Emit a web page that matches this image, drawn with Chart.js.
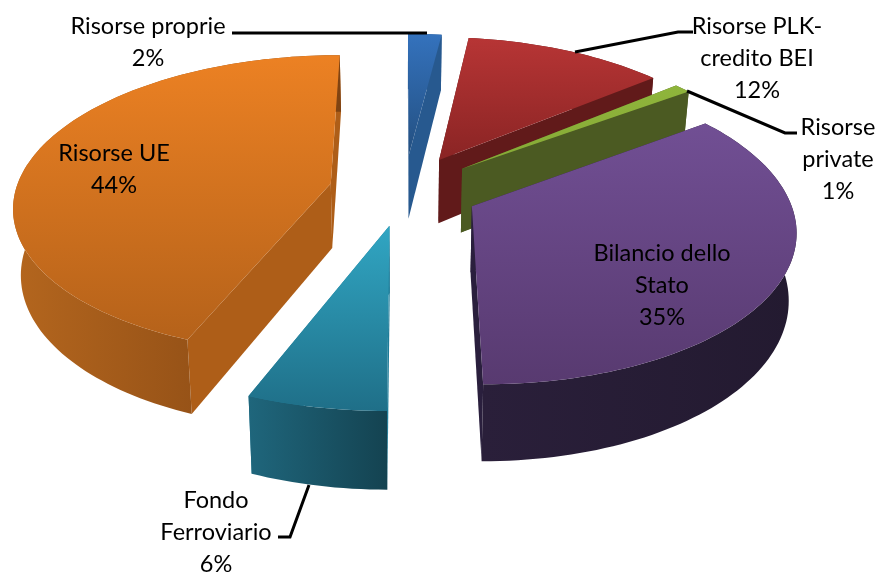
<!DOCTYPE html>
<html>
<head>
<meta charset="utf-8">
<style>
  html, body { margin: 0; padding: 0; background: #fff; }
  #wrap { width: 878px; height: 572px; }
</style>
<script src="https://cdn.jsdelivr.net/npm/chart.js@4"></script>
</head>
<body>
<div id="wrap"><canvas id="pie" width="878" height="572"></canvas></div>
<script>
// Chart data
const categories = [['Risorse proprie'], ['Risorse PLK-', 'credito BEI'], ['Risorse', 'private'],
    ['Bilancio dello', 'Stato'], ['Fondo', 'Ferroviario'], ['Risorse UE']];
const shares = [2, 12, 1, 35, 6, 44];

// Slice colours: top face gradient, cut faces, outer wall gradient
const topLight = ['#3472bd', '#b73535', '#8fb53b', '#714f94', '#31a6c3', '#ec8123'];
const topDark = ['#234f80', '#8a2424', '#86a836', '#583a70', '#1f6f88', '#b5621a'];
const cutColors = ['#27598f', '#611a1a', '#4b5a22', '#2a1f3d', '#1f7c98', '#ae5e18'];
const wallLeft = ['#27598f', '#611a1a', '#4b5a22', '#2a1f3a', '#1f667c', '#b4661e'];
const wallRight = ['#27598f', '#611a1a', '#4b5a22', '#231a30', '#144351', '#7f4312'];

// Label placement (centre x, first line y)
const labelX = [148, 757, 838, 662, 216, 114];
const labelY = [26, 26, 127, 253, 500, 153];
const lineGap = 32;
const leaders = [
    [[232, 33], [427, 33]],
    [[575, 52], [678, 32], [693, 32]],
    [[687, 91], [785, 133], [797, 133]],
    null,
    [[278, 537], [290, 537], [309, 485]],
    null
];

// Projection of the pie plane
const CX = 404, CY = 190, PLAN_R = 315, TILT = 0.47, EYE = 2240, DEPTH = 65, FLOOR_SCALE = 0.98;

function project(u, v, bottom) {
    const s = EYE / (EYE - v);
    const x = u * s * (bottom ? FLOOR_SCALE : 1);
    const y = (TILT * v + (bottom ? DEPTH : 0)) * s;
    return [CX + x, CY + y];
}

function tracePoly(ctx, pts) {
    ctx.beginPath();
    pts.forEach((p, i) => i ? ctx.lineTo(p[0], p[1]) : ctx.moveTo(p[0], p[1]));
    ctx.closePath();
}

// Draws one arc of the pie with its walls
function drawSlice(ctx, arc, i) {
    const scale = PLAN_R / arc.outerRadius;
    const mid = (arc.startAngle + arc.endAngle) / 2;
    const ou = Math.cos(mid) * arc.options.offset;
    const ov = Math.sin(mid) * arc.options.offset;
    const rim = [];
    const steps = Math.max(4, Math.ceil((arc.endAngle - arc.startAngle) * 40));
    for (let n = 0; n <= steps; n++) {
        const a = arc.startAngle + (arc.endAngle - arc.startAngle) * n / steps;
        const r = arc.outerRadius * scale;
        rim.push([ou + r * Math.cos(a), ov + r * Math.sin(a)]);
    }
    const topRim = rim.map(p => project(p[0], p[1], false));
    const lowRim = rim.map(p => project(p[0], p[1], true));
    const apexTop = project(ou, ov, false);
    const apexLow = project(ou, ov, true);

    // cut faces
    ctx.fillStyle = cutColors[i];
    tracePoly(ctx, [apexTop, topRim[0], lowRim[0], apexLow]);
    ctx.fill();
    tracePoly(ctx, [apexTop, topRim[steps], lowRim[steps], apexLow]);
    ctx.fill();

    // outer wall
    const xs = topRim.map(p => p[0]);
    const wall = ctx.createLinearGradient(Math.min(...xs), 0, Math.max(...xs), 0);
    wall.addColorStop(0, wallLeft[i]);
    wall.addColorStop(1, wallRight[i]);
    ctx.fillStyle = wall;
    tracePoly(ctx, topRim.concat(lowRim.slice().reverse()));
    ctx.fill();

    // top face
    const ys = topRim.map(p => p[1]).concat(apexTop[1]);
    const top = ctx.createLinearGradient(0, Math.min(...ys), 0, Math.max(...ys));
    top.addColorStop(0, topLight[i]);
    top.addColorStop(1, topDark[i]);
    ctx.fillStyle = top;
    tracePoly(ctx, [apexTop].concat(topRim));
    ctx.fill();
}

const pie3d = {
    id: 'pie3d',
    beforeDatasetsDraw(chart) {
        const ctx = chart.ctx;
        const arcs = chart.getDatasetMeta(0).data;
        const order = arcs.map((a, i) => i).sort((p, q) =>
            Math.sin((arcs[p].startAngle + arcs[p].endAngle) / 2) - Math.sin((arcs[q].startAngle + arcs[q].endAngle) / 2));
        ctx.save();
        order.forEach(i => drawSlice(ctx, arcs[i], i));
        ctx.restore();
        return false;
    },
    afterDraw(chart) {
        const ctx = chart.ctx;
        ctx.save();
        ctx.strokeStyle = '#000';
        ctx.lineWidth = 3;
        leaders.forEach(line => {
            if (!line) return;
            ctx.beginPath();
            line.forEach((p, n) => n ? ctx.lineTo(p[0], p[1]) : ctx.moveTo(p[0], p[1]));
            ctx.stroke();
        });
        ctx.fillStyle = '#000';
        ctx.font = '23.5px Lato';
        ctx.textAlign = 'center';
        ctx.textBaseline = 'middle';
        categories.forEach((lines, i) => {
            const all = lines.concat(shares[i] + '%');
            all.forEach((t, n) => ctx.fillText(t, labelX[i], labelY[i] + n * lineGap));
        });
        ctx.restore();
    }
};

new Chart(document.getElementById('pie').getContext('2d'), {
    type: 'pie',
    data: {
        labels: categories.map(c => c.join(' ')),
        datasets: [{
            data: shares,
            backgroundColor: topLight,
            offset: 75,
            borderWidth: 0
        }]
    },
    options: {
        responsive: false,
        animation: false,
        rotation: 0,
        plugins: { legend: { display: false }, tooltip: { enabled: false } }
    },
    plugins: [pie3d]
});
</script>
</body>
</html>
